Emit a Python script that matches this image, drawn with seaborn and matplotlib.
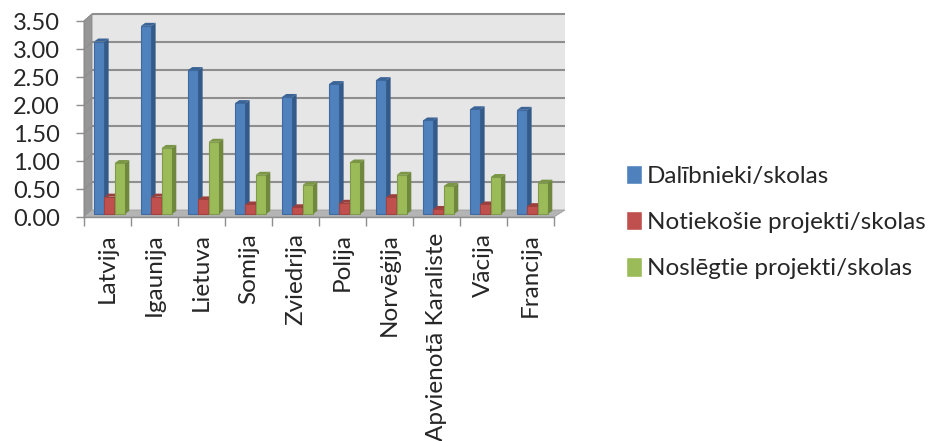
import pandas as pd
import matplotlib
matplotlib.use('Agg')
import matplotlib.pyplot as plt
from matplotlib.patches import Polygon
import seaborn as sns

countries = ['Latvija', 'Igaunija', 'Lietuva', 'Somija', 'Zviedrija', 'Polija',
             'Norvēģija', 'Apvienotā Karaliste', 'Vācija', 'Francija']
participants = [3.08, 3.36, 2.57, 1.98, 2.09, 2.32, 2.39, 1.67, 1.87, 1.86]
running = [0.31, 0.31, 0.26, 0.17, 0.12, 0.20, 0.30, 0.09, 0.17, 0.14]
finished = [0.91, 1.18, 1.29, 0.70, 0.52, 0.92, 0.70, 0.50, 0.66, 0.56]
series_names = ['Dalībnieki/skolas', 'Notiekošie projekti/skolas', 'Noslēgtie projekti/skolas']
y_ticks = [0, 0.5, 1, 1.5, 2, 2.5, 3, 3.5]

face_colors = ['#4F81BD', '#C0504D', '#9BBB59']
side_colors = ['#345A8A', '#8C3836', '#6F883E']
top_colors = ['#3A6396', '#9A3F3C', '#7A9645']
edge_colors = ['#3F6A9E', '#A04340', '#7F9A48']

W, H = 932, 441
LEFT, RIGHT, BOTTOM, TOP = 84, 554, 217, 21
PX_X = 47.0          # pixels per category
PX_Y = 56.0          # pixels per unit

df = pd.DataFrame({
    'country': countries * 3,
    'series': [n for n in series_names for _ in countries],
    'value': participants + running + finished,
})

sns.set_style('white')
plt.rcParams['font.family'] = ['Lato', 'DejaVu Sans']

fig = plt.figure(figsize=(W / 100, H / 100), dpi=100)
ax = fig.add_axes([LEFT / W, 1 - BOTTOM / H, (RIGHT - LEFT) / W, (BOTTOM - TOP) / H])

sns.barplot(data=df, x='country', y='value', hue='series', hue_order=series_names,
            palette=face_colors, width=0.66, gap=0, dodge=True, saturation=1, ax=ax)
handles, labels = ax.get_legend_handles_labels()

ax.set_xlim(-0.5, 9.5)
ax.set_ylim(0, 3.5)
ax.set_xlabel('')
ax.set_ylabel('')

# back wall, side wall and floor of the fake 3d box
back_x0 = -0.5 + 8 / PX_X
back_x1 = 9.5 + 11 / PX_X
back_dy = 7 / PX_Y
ax.add_patch(Polygon([(back_x0, back_dy), (back_x1, back_dy), (back_x1, 3.5 + back_dy), (back_x0, 3.5 + back_dy)],
                     fc='#E6E6E6', ec='none', zorder=0.5, clip_on=False))
ax.add_patch(Polygon([(-0.5, 0), (back_x0, back_dy), (back_x0, 3.5 + back_dy), (-0.5, 3.5)],
                     fc='#969696', ec='#8A8A8A', lw=0.6, zorder=0.6, clip_on=False))
ax.add_patch(Polygon([(-0.5, 0), (back_x0, back_dy), (back_x1, back_dy), (9.5, 0)],
                     fc='#B4B4B4', ec='#A0A0A0', lw=0.6, zorder=0.6, clip_on=False))
for t in y_ticks[1:]:
    ax.plot([back_x0, back_x1], [t + back_dy, t + back_dy], color='#8E8E8E', lw=1.5,
            zorder=0.7, clip_on=False, solid_capstyle='butt')
    ax.plot([-0.5, back_x0], [t, t + back_dy], color='#8E8E8E', lw=0.8, zorder=0.7, clip_on=False)

# shift bars onto the floor and add their side and top faces
shift_x = 2 / PX_X
base = 3 / PX_Y
dx = 4.3 / PX_X
dy = 3 / PX_Y
for i, container in enumerate(ax.containers):
    for bar in container:
        z = 3 + i
        bar.set_x(bar.get_x() + shift_x)
        bar.set_y(base)
        bar.set_edgecolor(edge_colors[i])
        bar.set_linewidth(0.8)
        bar.set_zorder(z)
        bar.set_clip_on(False)
        x0 = bar.get_x()
        x1 = x0 + bar.get_width()
        top = base + bar.get_height()
        ax.add_patch(Polygon([(x1, base), (x1 + dx, base + dy), (x1 + dx, top + dy), (x1, top)],
                             fc=side_colors[i], ec='none', zorder=z, clip_on=False))
        ax.add_patch(Polygon([(x0, top), (x0 + dx, top + dy), (x1 + dx, top + dy), (x1, top)],
                             fc=top_colors[i], ec='none', zorder=z, clip_on=False))

for side in ['top', 'right']:
    ax.spines[side].set_visible(False)
for side in ['left', 'bottom']:
    ax.spines[side].set_color('#8E8E8E')
    ax.spines[side].set_linewidth(1.0)
    ax.spines[side].set_zorder(1)

ax.set_yticks(y_ticks)
ax.set_yticklabels([f'{t:.2f}' for t in y_ticks])
ax.set_xticks([i - 0.5 for i in range(11)], minor=True)
ax.set_xticks(range(10))
ax.set_xticklabels(countries, rotation=90, ha='center', va='top')
ax.tick_params(axis='y', which='major', left=True, length=5.5, width=1, color='#8E8E8E', labelsize=17, pad=12)
ax.tick_params(axis='x', which='major', bottom=False, labelsize=17.5, pad=8)
ax.tick_params(axis='x', which='minor', bottom=True, length=6.5, width=1, color='#8E8E8E')

ax.legend(handles, labels, loc='center left', bbox_to_anchor=(626 / W, 1 - 222 / H),
          bbox_transform=fig.transFigure, frameon=False, fontsize=17.5, handlelength=0.66,
          handleheight=0.85, handletextpad=0.2, labelspacing=1.0, borderpad=0, borderaxespad=0)

fig.savefig('out.png', dpi=100)
